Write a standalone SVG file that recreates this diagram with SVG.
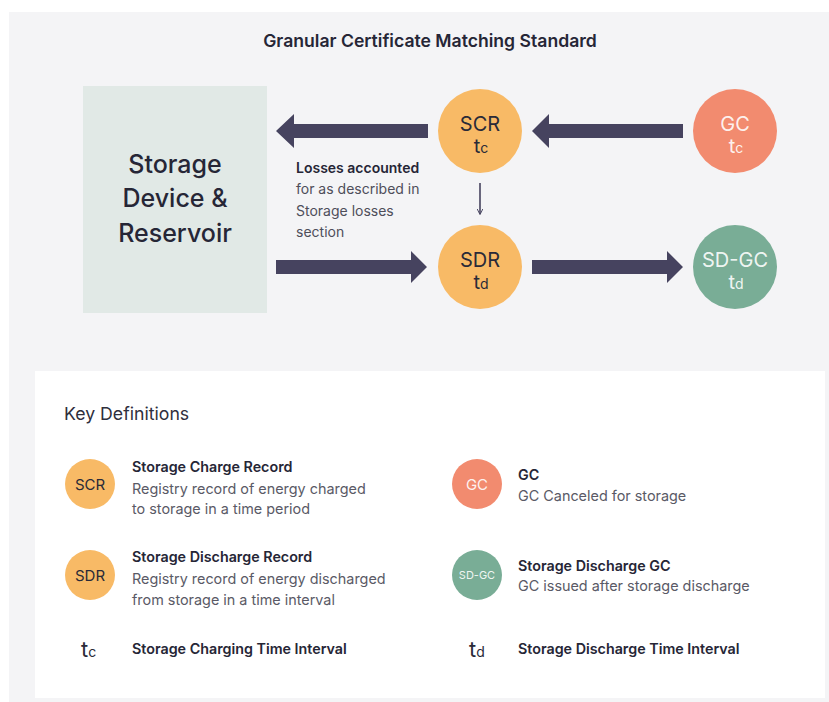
<svg xmlns="http://www.w3.org/2000/svg" width="829" height="702" viewBox="0 0 829 702">
  <style>
    text { font-family: Inter, "Noto Sans", "Liberation Sans", sans-serif; }
    .title { font-size: 17.6px; font-weight: 600; fill: #262636; }
    .store { font-size: 25px; font-weight: 500; fill: #262636; text-anchor: middle; }
    .node { font-size: 20px; font-weight: 400; text-anchor: middle; }
    .dark { fill: #2a2a38; }
    .light { fill: #ffffff; fill-opacity: 0.9; }
    .sub { font-size: 14px; }
    .note-b { font-size: 14px; font-weight: 600; fill: #262636; }
    .note { font-size: 14px; fill: #4e4e5a; }
    .head { font-size: 17.7px; font-weight: 400; fill: #2f2f3d; }
    .kb { font-size: 14.3px; font-weight: 600; fill: #262636; }
    .kt { font-size: 14.4px; fill: #5a5a66; }
    .chip { font-size: 15px; text-anchor: middle; }
    .tkey { font-size: 22px; }
    .arrow { fill: #46435f; }
    .orange { fill: #f8ba66; }
    .salmon { fill: #f28b6f; }
    .green { fill: #79ad96; }
  </style>
  <defs>
    <marker id="tip" viewBox="0 0 10 10" refX="9" refY="5" markerWidth="6" markerHeight="6" orient="auto" markerUnits="userSpaceOnUse">
      <path d="M0,0 L10,5 L0,10" fill="none" stroke="#46435f" stroke-width="1.6"/>
    </marker>
  </defs>

  <!-- backgrounds -->
  <rect x="9" y="12" width="820" height="690" fill="#f4f4f6"/>
  <rect x="35" y="371" width="790" height="327" fill="#ffffff"/>

  <text class="title" x="430" y="47" text-anchor="middle">Granular Certificate Matching Standard</text>

  <!-- connectors -->
  <g id="connectors">
    <!-- SCR -> storage -->
    <polygon class="arrow" points="428,124 294,124 294,114 276,131 294,148 294,138 428,138"/>
    <!-- GC -> SCR -->
    <polygon class="arrow" points="683,124 549,124 549,114 532,131 549,148 549,138 683,138"/>
    <!-- storage -> SDR -->
    <polygon class="arrow" points="276,260 411,260 411,251 427,267 411,283 411,274 276,274"/>
    <!-- SDR -> SD-GC -->
    <polygon class="arrow" points="532,260 667,260 667,251 683,267 667,283 667,274 532,274"/>
    <!-- SCR -> SDR -->
    <line x1="480" y1="183" x2="480" y2="214" stroke="#46435f" stroke-width="1.6" marker-end="url(#tip)"/>
  </g>

  <g id="storage">
    <rect x="83" y="86" width="184" height="227" fill="#e1e9e6"/>
    <text class="store" x="175" y="173">Storage</text>
    <text class="store" x="175" y="207">Device &amp;</text>
    <text class="store" x="175" y="242">Reservoir</text>
  </g>

  <g id="scr">
    <circle class="orange" cx="480" cy="131" r="42"/>
    <text class="node dark" x="480" y="131">SCR</text>
    <text class="node dark" x="481" y="153">t<tspan class="sub">c</tspan></text>
  </g>

  <g id="gc">
    <circle class="salmon" cx="735" cy="131" r="42"/>
    <text class="node light" x="735" y="131">GC</text>
    <text class="node light" x="736" y="153">t<tspan class="sub">c</tspan></text>
  </g>

  <g id="sdr">
    <circle class="orange" cx="480" cy="267" r="42"/>
    <text class="node dark" x="480" y="267">SDR</text>
    <text class="node dark" x="481" y="289">t<tspan class="sub">d</tspan></text>
  </g>

  <g id="sdgc">
    <circle class="green" cx="735" cy="267" r="42"/>
    <text class="node light" x="735" y="267">SD-GC</text>
    <text class="node light" x="736" y="289">t<tspan class="sub">d</tspan></text>
  </g>

  <g id="losses-note">
    <text class="note-b" x="296" y="173">Losses accounted</text>
    <text class="note" x="296" y="194">for as described in</text>
    <text class="note" x="296" y="216">Storage losses</text>
    <text class="note" x="296" y="237">section</text>
  </g>

  <!-- key definitions -->
  <g id="key">
    <text class="head" x="64" y="420">Key Definitions</text>

    <g id="key-scr">
      <circle class="orange" cx="90" cy="484" r="25"/>
      <text class="chip dark" x="90" y="489.5">SCR</text>
      <text class="kb" x="132" y="472">Storage Charge Record</text>
      <text class="kt" x="132" y="494">Registry record of energy charged</text>
      <text class="kt" x="132" y="514">to storage in a time period</text>
    </g>

    <g id="key-sdr">
      <circle class="orange" cx="90" cy="575" r="25"/>
      <text class="chip dark" x="90" y="580.5">SDR</text>
      <text class="kb" x="132" y="562">Storage Discharge Record</text>
      <text class="kt" x="132" y="584">Registry record of energy discharged</text>
      <text class="kt" x="132" y="605">from storage in a time interval</text>
    </g>

    <g id="key-tc">
      <text class="tkey dark" x="81" y="657">t<tspan class="sub">c</tspan></text>
      <text class="kb" x="132" y="654">Storage Charging Time Interval</text>
    </g>

    <g id="key-gc">
      <circle class="salmon" cx="477" cy="484" r="25"/>
      <text class="chip light" x="477" y="489.5">GC</text>
      <text class="kb" x="518" y="480">GC</text>
      <text class="kt" x="518" y="501">GC Canceled for storage</text>
    </g>

    <g id="key-sdgc">
      <circle class="green" cx="477" cy="575" r="25"/>
      <text class="light" x="477" y="579" text-anchor="middle" font-size="11">SD-GC</text>
      <text class="kb" x="518" y="571">Storage Discharge GC</text>
      <text class="kt" x="518" y="591">GC issued after storage discharge</text>
    </g>

    <g id="key-td">
      <text class="tkey dark" x="469" y="657">t<tspan class="sub">d</tspan></text>
      <text class="kb" x="518" y="654">Storage Discharge Time Interval</text>
    </g>
  </g>
</svg>
